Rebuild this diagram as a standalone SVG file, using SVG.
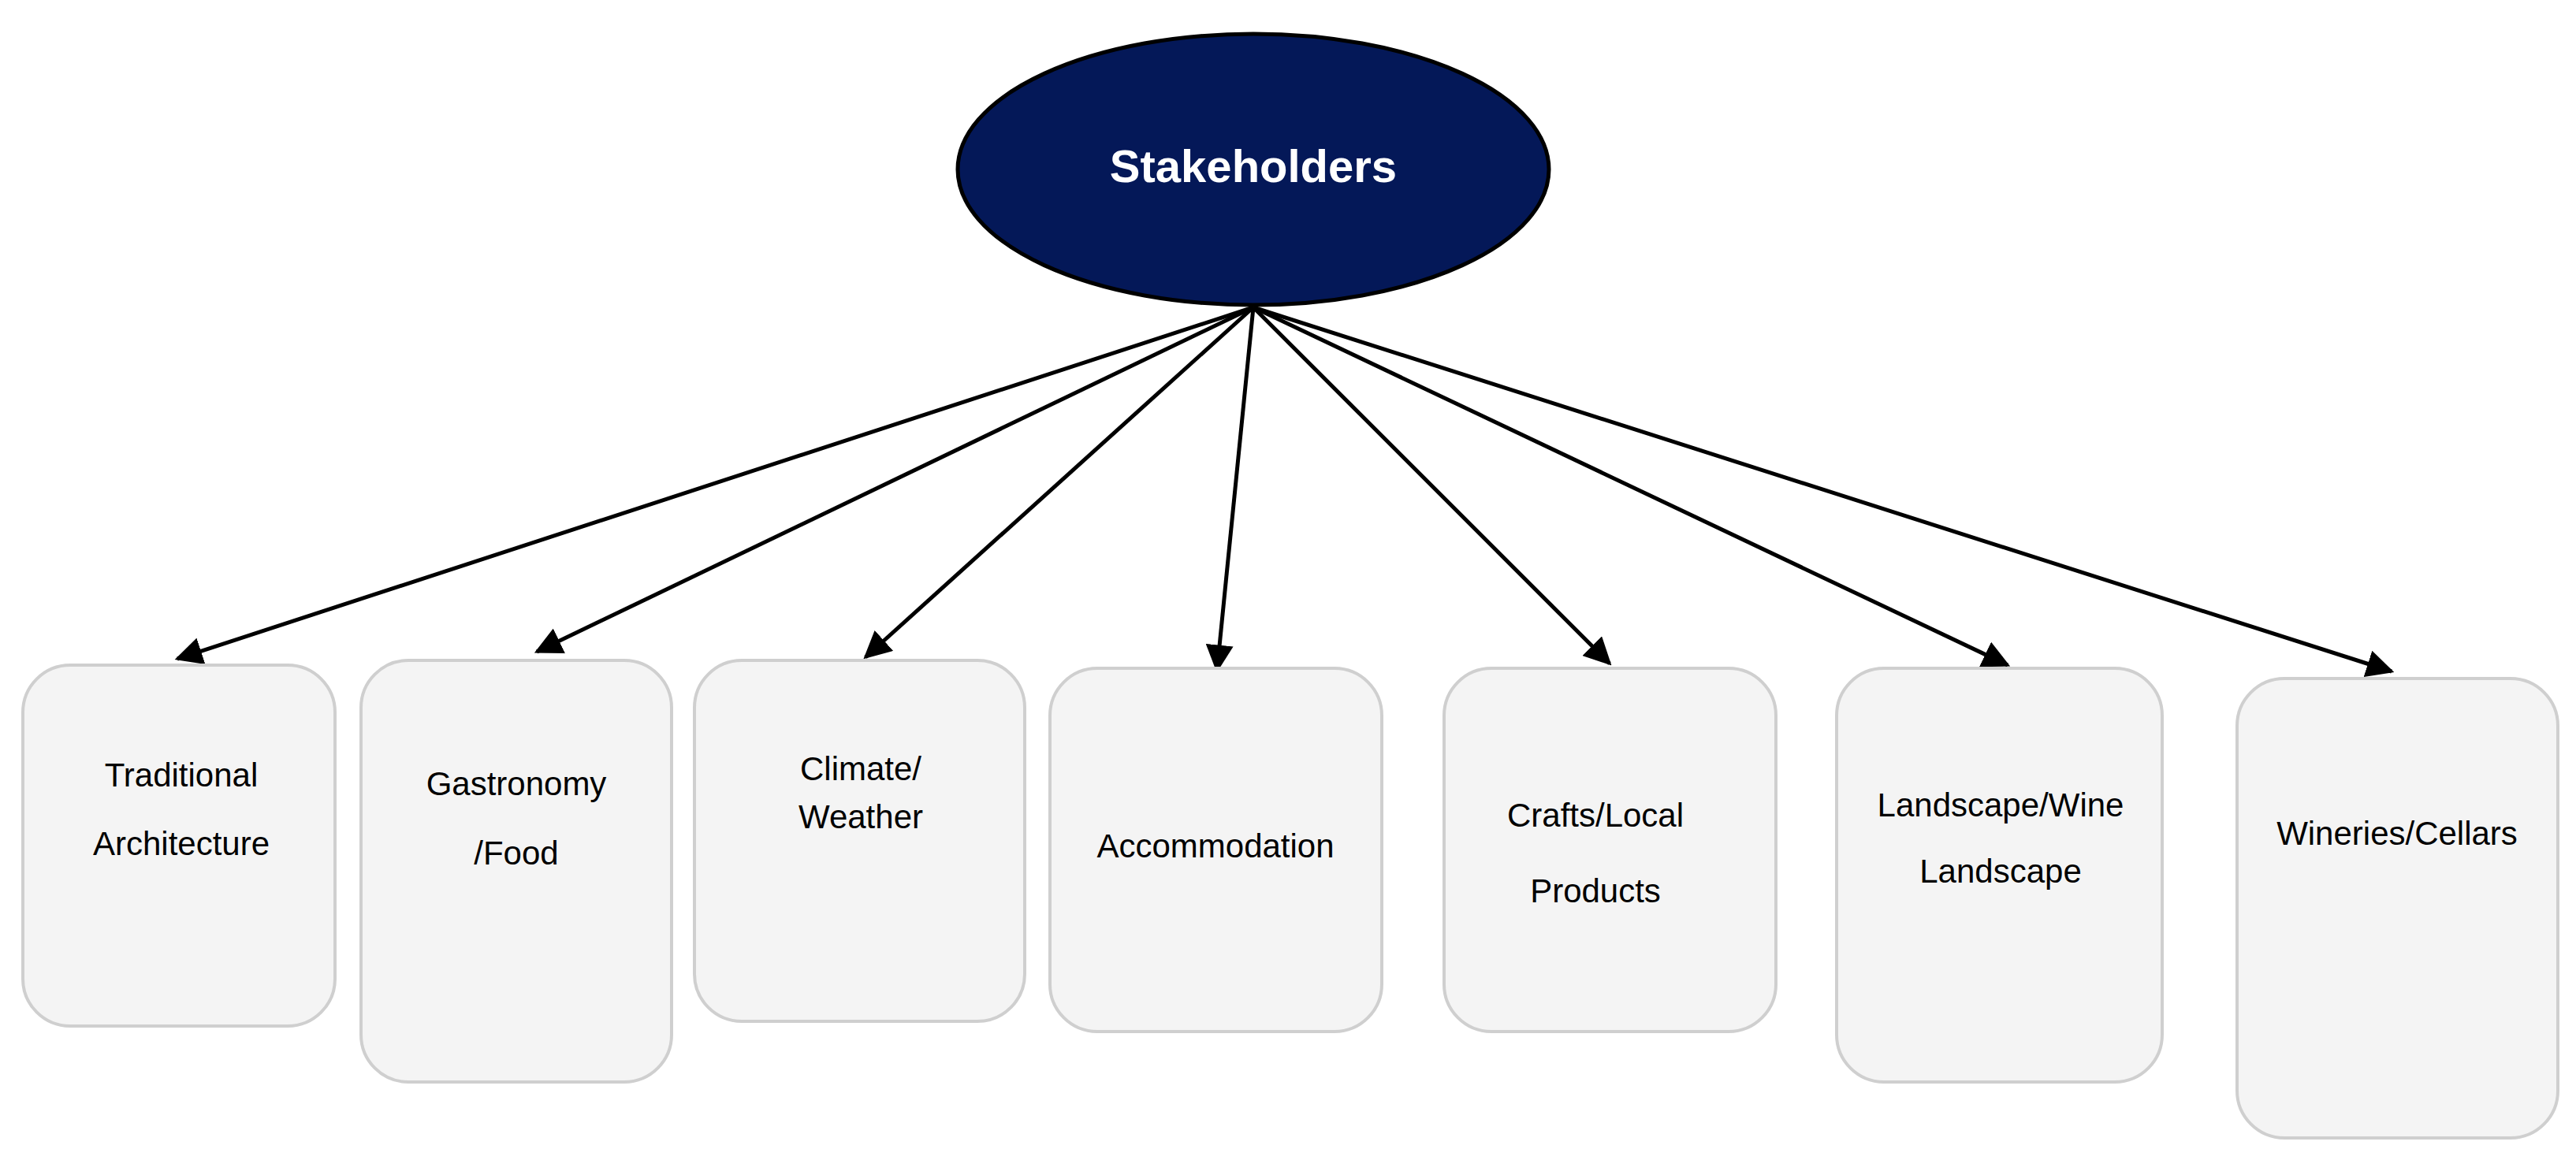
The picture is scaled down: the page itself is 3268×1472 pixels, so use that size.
<svg xmlns="http://www.w3.org/2000/svg" width="3268" height="1472" viewBox="0 0 3268 1472">
<style>
.b{fill:#f4f4f4;stroke:#cfcfcf;stroke-width:4}
.t{font-family:"Liberation Sans",Arial,sans-serif;font-size:42px;fill:#000;text-anchor:middle;dominant-baseline:central}
.c{stroke:#000;stroke-width:5;fill:none;marker-end:url(#a)}
</style>
<defs><marker id="a" viewBox="0 0 10 10" refX="9" refY="5" markerWidth="7" markerHeight="7" orient="auto" markerUnits="strokeWidth"><path d="M0,0L10,5L0,10z" fill="#000"/></marker></defs>
<rect width="3268" height="1472" fill="#fff"/>
<g id="connectors">
<line class="c" x1="1590" y1="390" x2="225" y2="836"/>
<line class="c" x1="1590" y1="390" x2="681" y2="827"/>
<line class="c" x1="1590" y1="390" x2="1098" y2="834"/>
<line class="c" x1="1590" y1="390" x2="1544" y2="850"/>
<line class="c" x1="1590" y1="390" x2="2042" y2="842"/>
<line class="c" x1="1590" y1="390" x2="2547" y2="844"/>
<line class="c" x1="1590" y1="390" x2="3034" y2="852"/>
</g>
<g id="stakeholders"><ellipse cx="1590" cy="215" rx="375" ry="172" fill="#041858" stroke="#000" stroke-width="5"/><text class="t" x="1590" y="210" style="font-weight:bold;font-size:58px;fill:#fff">Stakeholders</text></g>
<g id="n1"><rect class="b" x="29" y="844" width="396" height="458" rx="60"/><text class="t" x="230" y="983">Traditional</text><text class="t" x="230" y="1070">Architecture</text></g>
<g id="n2"><rect class="b" x="458" y="838" width="394" height="535" rx="60"/><text class="t" x="655" y="994">Gastronomy</text><text class="t" x="655" y="1082">/Food</text></g>
<g id="n3"><rect class="b" x="881" y="838" width="419" height="458" rx="60"/><text class="t" x="1092" y="975">Climate/</text><text class="t" x="1092" y="1036">Weather</text></g>
<g id="n4"><rect class="b" x="1332" y="848" width="421" height="461" rx="60"/><text class="t" x="1542" y="1073">Accommodation</text></g>
<g id="n5"><rect class="b" x="1832" y="848" width="421" height="461" rx="60"/><text class="t" x="2024" y="1034">Crafts/Local</text><text class="t" x="2024" y="1130">Products</text></g>
<g id="n6"><rect class="b" x="2330" y="848" width="413" height="525" rx="60"/><text class="t" x="2538" y="1021">Landscape/Wine</text><text class="t" x="2538" y="1105">Landscape</text></g>
<g id="n7"><rect class="b" x="2838" y="861" width="407" height="583" rx="60"/><text class="t" x="3041" y="1057">Wineries/Cellars</text></g>
</svg>
